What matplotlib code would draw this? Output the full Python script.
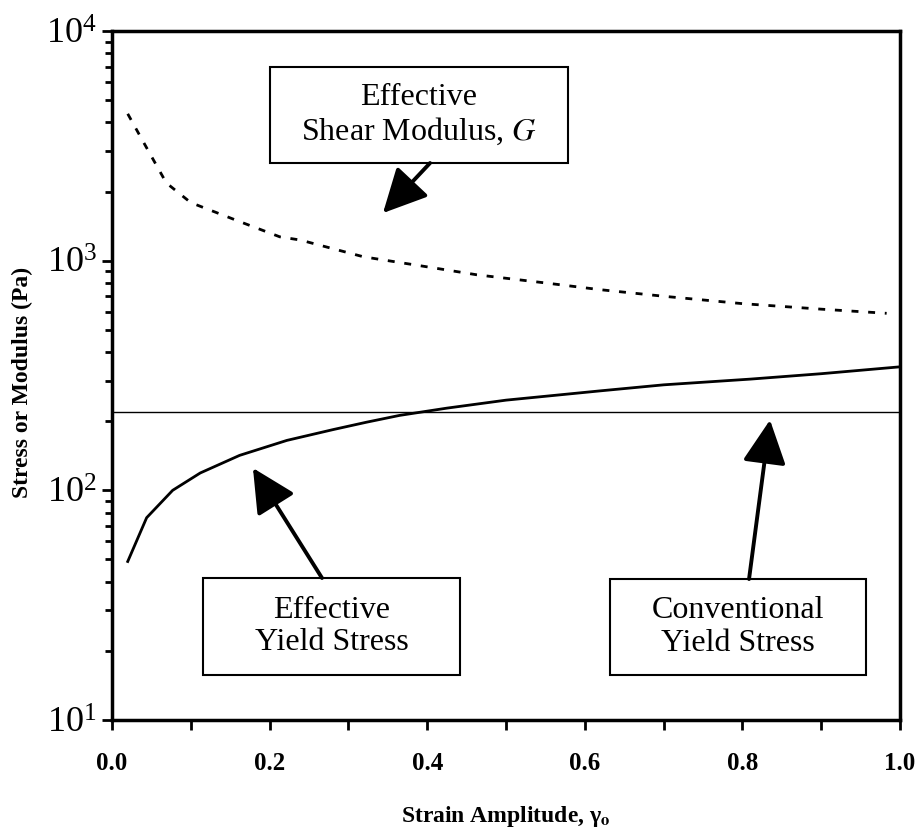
import numpy as np
import matplotlib
matplotlib.use('Agg')
import matplotlib.pyplot as plt
from matplotlib.patches import Rectangle
from matplotlib.ticker import LogLocator, MultipleLocator, NullFormatter

# data
strain_G = [0.02, 0.044, 0.069, 0.10, 0.162, 0.213, 0.239, 0.319, 0.40, 0.463, 0.55, 0.619, 0.70, 0.80, 0.90, 0.983]
modulus_G = [4360, 3100, 2180, 1790, 1480, 1270, 1230, 1040, 940, 868, 800, 748, 700, 650, 615, 590]

strain_Y = [0.02, 0.044, 0.077, 0.112, 0.162, 0.222, 0.281, 0.323, 0.365, 0.425, 0.50, 0.619, 0.70, 0.81, 0.90, 1.0]
stress_Y = [49, 76, 100, 119, 142, 165, 184, 198, 212, 228, 247, 271, 288, 305, 322, 345]

conv_yield = 220

serif = ['Liberation Serif', 'DejaVu Serif']
plt.rcParams['font.family'] = serif
plt.rcParams['mathtext.fontset'] = 'stix'

fig = plt.figure(figsize=(9.17, 8.34), dpi=100)
ax = fig.add_axes([0.1221, 0.1367, 0.8594, 0.8261])

ax.plot(strain_G, modulus_G, color='k', lw=2.0, dashes=(2.5, 3.5))
ax.plot(strain_Y, stress_Y, color='k', lw=2.0)
ax.axhline(conv_yield, color='k', lw=1.0)

ax.set_yscale('log')
ax.set_xlim(0, 1.0)
ax.set_ylim(10, 1e4)

ax.xaxis.set_major_locator(MultipleLocator(0.2))
ax.xaxis.set_minor_locator(MultipleLocator(0.1))
ax.yaxis.set_major_locator(LogLocator(base=10))
ax.yaxis.set_minor_locator(LogLocator(base=10, subs=np.arange(2, 10)))
ax.yaxis.set_minor_formatter(NullFormatter())

ax.tick_params(axis='both', which='both', direction='out', width=2)
ax.tick_params(axis='x', which='major', length=7, labelsize=18, pad=16)
ax.tick_params(axis='x', which='minor', length=7)
ax.tick_params(axis='y', which='major', length=7, labelsize=26, pad=4)
ax.tick_params(axis='y', which='minor', length=5)
ax.set_xticks([0.0, 0.2, 0.4, 0.6, 0.8, 1.0])
ax.set_xticklabels(['0.0', '0.2', '0.4', '0.6', '0.8', '1.0'], fontweight='bold')

for sp in ax.spines.values():
    sp.set_linewidth(2.5)

ax.set_xlabel('Strain Amplitude, γ$_\\mathbf{o}$', fontsize=17, fontweight='bold')
ax.xaxis.set_label_coords(0.5, -0.122)
ax.set_ylabel('Stress or Modulus (Pa)', fontsize=17, fontweight='bold')
ax.yaxis.set_label_coords(-0.1, 0.49)

# text boxes
boxes = [
    ((0.2005, 0.8084), 0.3782, 0.1394, 'Effective\nShear Modulus, $\\mathit{G}$'),
    ((0.1155, 0.0653), 0.3261, 0.1408, 'Effective\nYield Stress'),
    ((0.6320, 0.0653), 0.3249, 0.1393, 'Conventional\nYield Stress'),
]
for (x0, y0), w, h, txt in boxes:
    ax.add_patch(Rectangle((x0, y0), w, h, transform=ax.transAxes,
                           fill=False, ec='k', lw=1.5, zorder=3))
    ax.text(x0 + w / 2, y0 + h / 2, txt, transform=ax.transAxes,
            ha='center', va='center', fontsize=23, linespacing=1.15)

arrows = [
    ((0.4036, 0.8084), (0.3439, 0.7358)),
    ((0.2665, 0.2061), (0.1789, 0.3657)),
    ((0.8084, 0.2046), (0.8350, 0.4354)),
]
for tail, head in arrows:
    ax.annotate('', xy=head, xytext=tail, xycoords='axes fraction',
                textcoords='axes fraction',
                arrowprops=dict(arrowstyle='-|>,head_length=0.9,head_width=0.45',
                                mutation_scale=30, lw=2.8, color='k',
                                shrinkA=0, shrinkB=0))

fig.savefig('out.png', dpi=100)
